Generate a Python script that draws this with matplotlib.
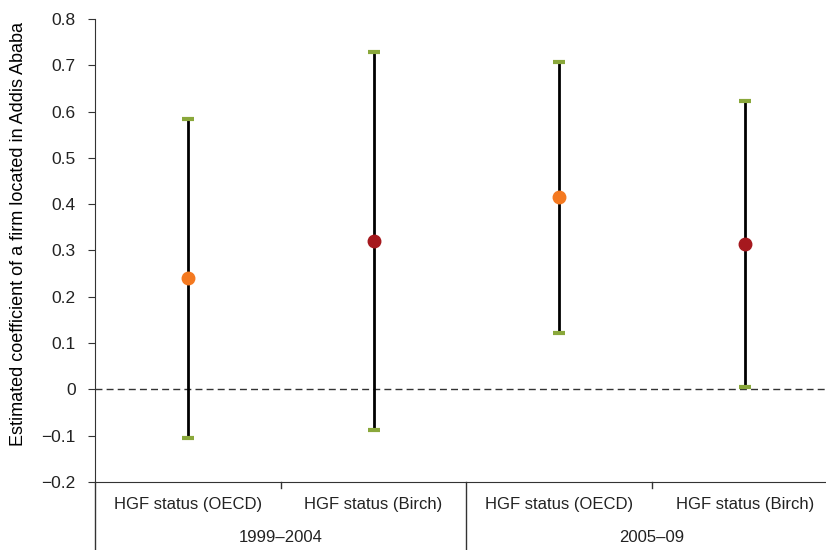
import matplotlib
matplotlib.use('Agg')
import matplotlib.pyplot as plt

plt.rcParams['font.family'] = ['Liberation Sans', 'DejaVu Sans']
plt.rcParams['text.color'] = '#222222'
plt.rcParams['ytick.labelcolor'] = '#222222'

# Estimated coefficients with confidence bounds
categories = ['HGF status (OECD)', 'HGF status (Birch)', 'HGF status (OECD)', 'HGF status (Birch)']
groups = ['1999–2004', '2005–09']
estimates = [0.24, 0.321, 0.415, 0.314]
lowerBounds = [-0.105, -0.087, 0.122, 0.006]
upperBounds = [0.584, 0.729, 0.707, 0.622]
pointColors = ['#f47920', '#a6191e', '#f47920', '#a6191e']
yTicks = [-0.2, -0.1, 0, 0.1, 0.2, 0.3, 0.4, 0.5, 0.6, 0.7, 0.8]
yTickLabels = ['\u22120.2', '\u22120.1', '0', '0.1', '0.2', '0.3', '0.4', '0.5', '0.6', '0.7', '0.8']

fig = plt.figure(figsize=(8.26, 5.5), dpi=100)
ax = fig.add_axes([95 / 826, (550 - 482) / 550, (826 - 95) / 826, (482 - 19) / 550])

xPos = range(len(categories))
for idx in xPos:
	ax.plot([idx, idx], [lowerBounds[idx], upperBounds[idx]], color='black', lw=2, zorder=2)
	ax.plot([idx], [lowerBounds[idx]], marker='_', color='#8aa83b', ms=9, mew=3, zorder=3)
	ax.plot([idx], [upperBounds[idx]], marker='_', color='#8aa83b', ms=9, mew=3, zorder=3)
	ax.plot([idx], [estimates[idx]], marker='o', color=pointColors[idx], ms=9, zorder=4)

ax.axhline(0, color='#333333', lw=1, ls=(0, (5, 3)), zorder=1)

ax.set_xlim(-0.5, 3.436)
ax.set_ylim(-0.2, 0.8)
ax.set_yticks(yTicks)
ax.set_yticklabels(yTickLabels, fontsize=12.5)
ax.set_ylabel('Estimated coefficient of a firm located in Addis Ababa', fontsize=13)
ax.yaxis.set_label_coords(-0.093, 0.535)

for side in ['top', 'right']:
	ax.spines[side].set_visible(False)
ax.spines['left'].set_color('#333333')
ax.spines['bottom'].set_color('#333333')
ax.tick_params(axis='y', direction='out', length=5, color='#333333', pad=9)

# Category and group labels below the axis
ax.set_xticks([])
for idx in xPos:
	ax.text(idx, -0.2 - 22 / 463, categories[idx], ha='center', va='center', fontsize=12,
			clip_on=False)
for gIdx in range(len(groups)):
	ax.text(gIdx * 2 + 0.5, -0.2 - 55 / 463, groups[gIdx], ha='center', va='center', fontsize=12,
			clip_on=False)

# Separators: small tick between categories, long lines between groups
ax.plot([0.5, 0.5], [-0.2, -0.2 - 6 / 463], color='#333333', lw=1, clip_on=False)
ax.plot([2.5, 2.5], [-0.2, -0.2 - 6 / 463], color='#333333', lw=1, clip_on=False)
ax.plot([-0.5, -0.5], [-0.2, -0.2 - 70 / 463], color='#333333', lw=1, clip_on=False)
ax.plot([1.5, 1.5], [-0.2, -0.2 - 70 / 463], color='#333333', lw=1, clip_on=False)

fig.savefig('out.png', dpi=100)
